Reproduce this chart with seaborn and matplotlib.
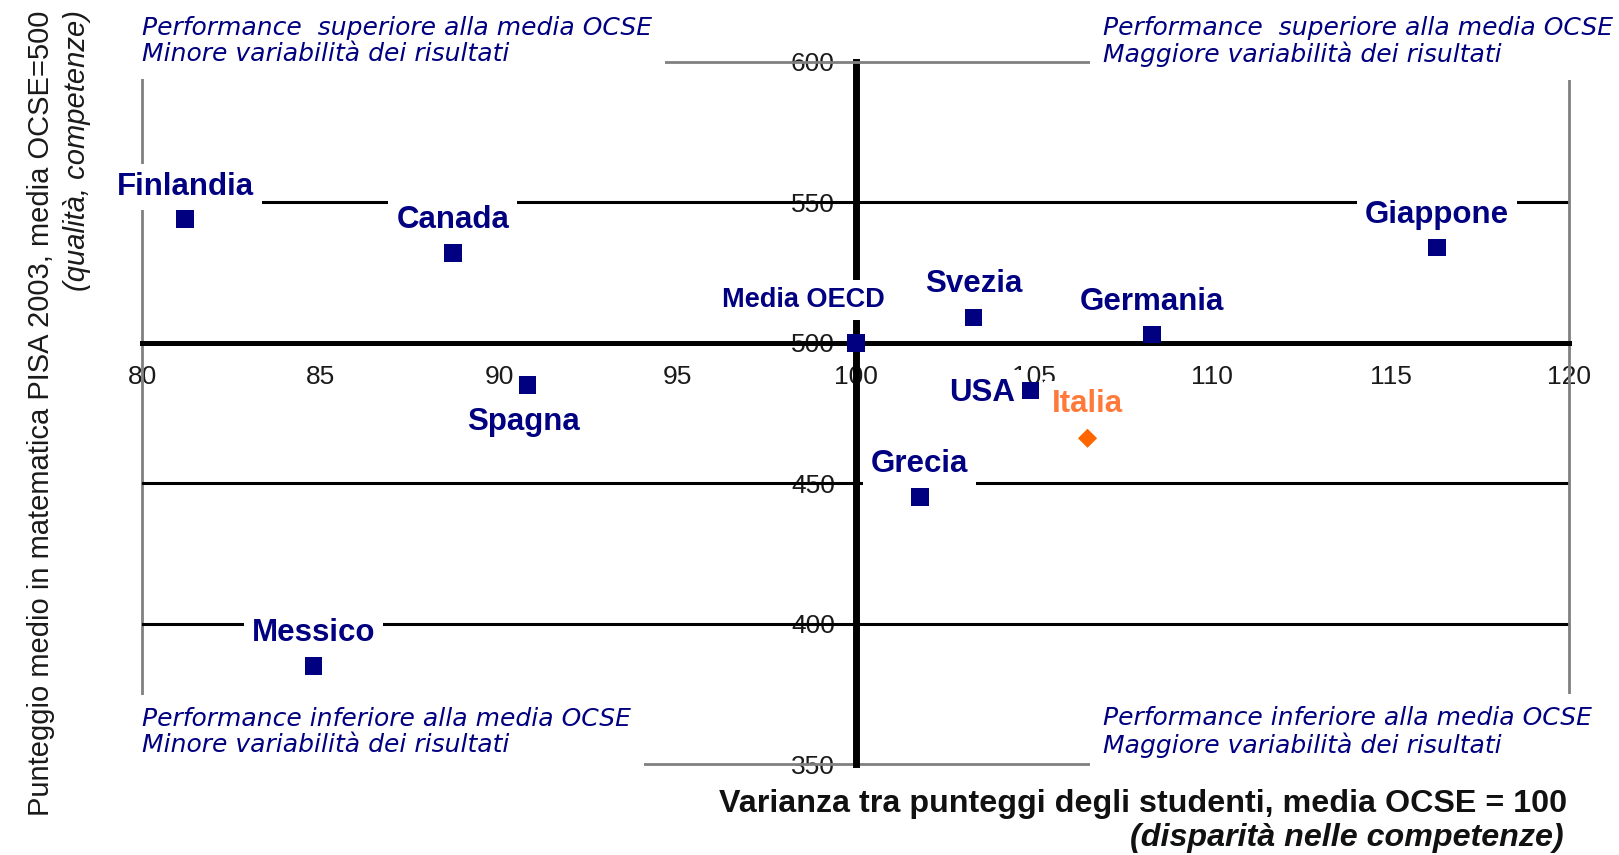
import matplotlib
matplotlib.use("Agg")
import matplotlib.pyplot as plt
import seaborn as sns
import pandas as pd

# ---- data ----
countries = ["Finlandia", "Canada", "Giappone", "Svezia", "Germania", "Media OECD",
             "Spagna", "USA", "Grecia", "Messico", "Italia"]
varianza = [81.2, 88.7, 116.3, 103.3, 108.3, 100.0, 90.8, 104.9, 101.8, 84.8, 106.5]
punteggio = [544, 532, 534, 509, 503, 500, 485, 483, 445, 385, 466]
highlight = "Italia"
x_ticks = [80, 85, 90, 95, 100, 105, 110, 115, 120]
y_ticks = [350, 400, 450, 500, 550, 600]

corner_tl = "Performance  superiore alla media OCSE\nMinore variabilità dei risultati"
corner_tr = "Performance  superiore alla media OCSE\nMaggiore variabilità dei risultati"
corner_bl = "Performance inferiore alla media OCSE\nMinore variabilità dei risultati"
corner_br = "Performance inferiore alla media OCSE\nMaggiore variabilità dei risultati"
xlabel1 = "Varianza tra punteggi degli studenti, media OCSE = 100"
xlabel2 = "(disparità nelle competenze)"
ylabel1 = "Punteggio medio in matematica PISA 2003, media OCSE=500"
ylabel2 = "(qualità, competenze)"

# label offsets (points) relative to each marker
label_offsets = {
    "Finlandia": (0, 23.3), "Canada": (0, 23.8), "Giappone": (0, 23.0),
    "Svezia": (0, 24.4), "Germania": (0, 23.1), "Media OECD": (-37.6, 31.0),
    "Spagna": (-3, -26.8), "USA": (-35, -1.7), "Italia": (0, 24.8),
    "Grecia": (0, 23.6), "Messico": (0, 23.8),
}

NAVY = "#000080"
ORANGE = "#FF6600"
GREY = "#808080"

sns.set_style("white")
plt.rcParams["font.family"] = ["Liberation Sans", "DejaVu Sans"]

fig = plt.figure(figsize=(16.19, 8.55), dpi=100)
ax = fig.add_axes([0.088, 0.1064, 0.8811, 0.8211])

df = pd.DataFrame({"paese": countries, "varianza": varianza, "punteggio": punteggio})
others = df[df["paese"] != highlight]
ita = df[df["paese"] == highlight]

sns.scatterplot(data=others, x="varianza", y="punteggio", marker="s", s=160,
                color=NAVY, edgecolor="none", linewidth=0, ax=ax, zorder=6)
sns.scatterplot(data=ita, x="varianza", y="punteggio", marker="D", s=95,
                color=ORANGE, edgecolor="none", linewidth=0, ax=ax, zorder=6)

ax.set_xlim(x_ticks[0], x_ticks[-1])
ax.set_ylim(y_ticks[0], y_ticks[-1])
ax.set_xticks(x_ticks)
ax.set_yticks(y_ticks)
ax.set_xlabel("")
ax.set_ylabel("")

# central axes
ax.spines["left"].set_position(("data", 100))
ax.spines["bottom"].set_position(("data", 500))
ax.spines["left"].set_linewidth(5)
ax.spines["bottom"].set_linewidth(3.6)
ax.spines["left"].set_color("black")
ax.spines["bottom"].set_color("black")
for s in ["top", "right"]:
    ax.spines[s].set_color(GREY)
    ax.spines[s].set_linewidth(2)
ax.axvline(x_ticks[0], color=GREY, lw=2, zorder=1, clip_on=False)
ax.axhline(y_ticks[0], color=GREY, lw=2, zorder=1, clip_on=False)
for yv in y_ticks:
    if yv not in (y_ticks[0], y_ticks[-1], 500):
        ax.axhline(yv, color="black", lw=2.2, zorder=1)

ax.tick_params(axis="x", direction="out", length=8.6, width=2.5, pad=7.5,
               labelsize=19, colors="black", labelcolor="#1a1a1a")
ax.tick_params(axis="y", direction="out", length=4, width=2.5, pad=11,
               labelsize=19, colors="black", labelcolor="#1a1a1a")

# country labels
for name, xv, yv in zip(countries, varianza, punteggio):
    dx, dy = label_offsets[name]
    col = "#FF7A3A" if name == highlight else NAVY
    fs = 19.5 if name == "Media OECD" else 22.5
    ax.annotate(name, xy=(xv, yv), xytext=(dx, dy), textcoords="offset points",
                ha="center", va="center", fontsize=fs, fontweight="bold", color=col,
                bbox=dict(boxstyle="square,pad=0.25", fc="white", ec="none"),
                zorder=5)

# corner annotations
corner_kw = dict(fontsize=18, style="italic", color=NAVY, family="DejaVu Sans",
                 ha="left", va="center", linespacing=1.1,
                 bbox=dict(boxstyle="square,pad=0.5", fc="white", ec="none"))
fig.text(0.088, 0.9517, corner_tl, **corner_kw)
fig.text(0.681, 0.9517, corner_tr, **corner_kw)
fig.text(0.088, 0.1439, corner_bl, **corner_kw)
fig.text(0.681, 0.1439, corner_br, **corner_kw)

# axis titles
fig.text(0.0253, 0.988, ylabel1, rotation=90, ha="center", va="top",
         fontsize=21, color="#1a1a1a")
fig.text(0.0476, 0.988, ylabel2, rotation=90, ha="center", va="top",
         fontsize=21, style="italic", color="#1a1a1a")
fig.text(0.968, 0.0596, xlabel1, ha="right", va="center", fontsize=23.2,
         fontweight="bold", color="#111111")
fig.text(0.966, 0.0199, xlabel2, ha="right", va="center", fontsize=23.2,
         fontweight="bold", style="italic", color="#111111")

fig.savefig("out.png", dpi=100)
